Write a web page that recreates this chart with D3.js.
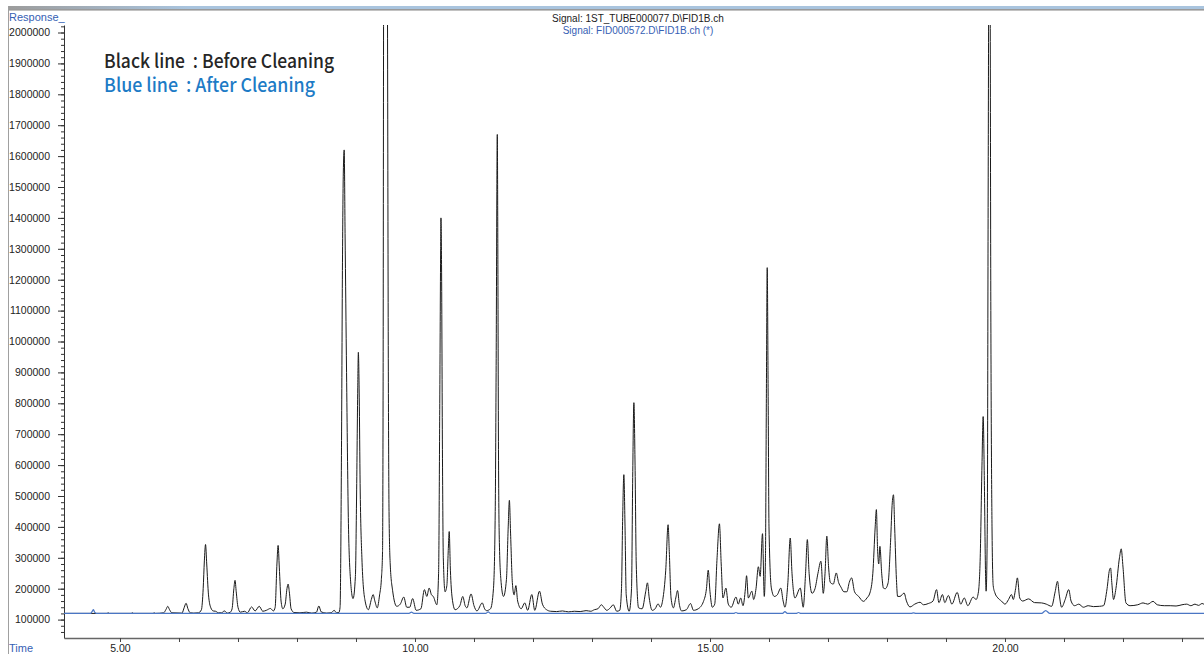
<!DOCTYPE html>
<html>
<head>
<meta charset="utf-8">
<script src="https://cdn.jsdelivr.net/npm/d3@7"></script>
<style>
  html, body { margin: 0; padding: 0; background: #fff; overflow: hidden; }
  svg { display: block; }
</style>
</head>
<body>
<div id="chart"></div>
<script>
// Black trace (before cleaning): [time in min, response in thousands]
const beforeTrace = [
  [4.00,120],[4.50,120],[4.78,120],[4.80,122],[4.82,120],[5.19,120],[5.21,122],[5.23,120],
  [5.56,120],[5.58,122],[5.60,120],[5.74,122],[5.78,133],[5.81,143],[5.84,132],[5.88,122],
  [6.05,121],[6.09,140],[6.12,153],[6.15,136],[6.19,122],[6.25,121],[6.33,122],
  [6.38,132],[6.41,200],[6.43,290],[6.45,343],[6.47,280],[6.50,180],[6.54,138],[6.58,128],
  [6.62,127],[6.67,122],[6.72,122],[6.77,128],[6.82,121],[6.87,124],
  [6.90,135],[6.93,200],[6.95,227],[6.97,190],[7.00,140],[7.04,124],[7.11,127],[7.16,122],
  [7.23,141],[7.29,128],[7.36,143],[7.42,127],[7.48,130],[7.55,136],[7.60,128],
  [7.63,140],[7.66,280],[7.68,340],[7.70,270],[7.73,160],[7.76,135],[7.80,150],[7.83,200],
  [7.85,215],[7.87,190],[7.90,135],[7.95,123],[8.05,122],[8.16,124],[8.25,121],[8.33,124],
  [8.37,144],[8.41,125],[8.50,121],[8.58,122],[8.63,130],[8.67,122],[8.71,123],
  [8.73,140],[8.755,680],[8.77,1230],[8.785,1545],[8.80,1620],[8.815,1350],[8.84,900],
  [8.87,430],[8.90,250],[8.95,168],
  [8.99,240],[9.01,500],[9.03,850],[9.04,965],[9.055,820],[9.07,540],[9.10,300],[9.15,165],
  [9.21,132],[9.26,165],[9.29,181],[9.32,160],[9.36,138],[9.40,180],[9.43,230],
  [9.45,320],[9.46,900],[9.47,2300],[9.50,3000],[9.53,2300],[9.55,800],[9.56,450],
  [9.58,280],[9.62,195],[9.69,143],
  [9.75,150],[9.81,173],[9.86,140],[9.91,140],[9.96,168],[10.02,130],[10.10,135],
  [10.16,197],[10.20,175],[10.24,202],[10.28,180],[10.31,175],[10.37,148],
  [10.40,250],[10.42,800],[10.435,1300],[10.44,1400],[10.45,1250],[10.465,650],[10.48,300],
  [10.51,190],[10.54,210],[10.565,330],[10.58,385],[10.60,260],[10.63,170],[10.68,132],
  [10.76,145],[10.81,175],[10.85,145],[10.88,138],[10.95,183],[11.00,145],[11.05,128],
  [11.14,154],[11.18,135],[11.21,129],[11.28,135],[11.33,200],
  [11.36,450],[11.375,900],[11.395,1670],[11.405,1250],[11.415,650],[11.43,350],[11.46,220],
  [11.50,175],[11.55,230],[11.58,400],[11.60,486],[11.62,380],[11.65,220],[11.68,180],
  [11.71,210],[11.74,160],[11.80,135],[11.86,154],[11.91,130],[11.98,181],[12.03,130],
  [12.11,192],[12.16,150],[12.23,132],[12.30,127],[12.40,126],[12.50,128],[12.60,125],
  [12.70,127],[12.80,126],[12.90,129],[12.98,127],[13.04,132],[13.10,135],[13.16,148],
  [13.20,140],[13.25,130],[13.31,138],[13.36,148],[13.42,127],[13.47,130],
  [13.50,200],[13.52,430],[13.54,569],[13.56,400],[13.58,180],[13.63,127],
  [13.67,200],[13.69,560],[13.71,802],[13.73,600],[13.75,280],[13.79,138],
  [13.85,135],[13.91,190],[13.94,219],[13.97,170],[14.02,130],[14.07,135],[14.12,151],
  [14.16,140],[14.20,165],[14.25,260],[14.29,407],[14.31,320],[14.34,170],[14.38,138],
  [14.42,170],[14.45,194],[14.48,150],[14.52,128],[14.60,132],[14.67,152],[14.72,130],
  [14.80,135],[14.89,159],[14.94,200],[14.97,260],[15.00,190],[15.04,140],[15.08,150],
  [15.12,300],[15.16,410],[15.19,280],[15.22,170],[15.27,202],[15.31,150],[15.36,140],
  [15.44,173],[15.48,150],[15.52,170],[15.56,145],[15.60,200],[15.62,242],[15.65,170],
  [15.71,192],[15.74,165],[15.78,200],[15.82,271],[15.85,240],[15.89,378],[15.92,175],
  [15.94,300],[15.955,800],[15.97,1239],[15.985,850],[16.00,400],[16.04,202],[16.09,175],
  [16.14,180],[16.20,202],[16.24,160],[16.27,140],[16.32,220],[16.36,364],[16.39,250],
  [16.44,170],[16.53,202],[16.58,140],[16.62,250],[16.65,359],[16.68,250],[16.73,185],
  [16.78,200],[16.83,250],[16.88,289],[16.92,185],[16.95,250],[16.98,370],[17.01,270],
  [17.04,220],[17.09,215],[17.14,251],[17.18,220],[17.22,205],[17.27,190],[17.32,190],
  [17.36,220],[17.40,235],[17.45,190],[17.52,175],[17.60,159],[17.66,170],[17.71,186],
  [17.76,250],[17.80,400],[17.82,456],[17.84,330],[17.86,280],[17.88,337],[17.91,250],
  [17.94,202],[17.97,200],[18.02,220],[18.06,350],[18.09,480],[18.11,504],[18.13,400],
  [18.16,230],[18.18,175],[18.22,175],[18.29,186],[18.33,160],[18.39,141],[18.47,150],
  [18.56,156],[18.62,148],[18.70,152],[18.78,160],[18.84,197],[18.88,155],[18.94,181],
  [18.98,155],[19.04,178],[19.10,150],[19.19,188],[19.25,150],[19.31,170],[19.37,145],
  [19.46,173],[19.51,165],[19.55,190],
  [19.58,300],[19.61,600],[19.63,757],[19.65,550],[19.67,250],[19.68,192],
  [19.70,400],[19.715,1500],[19.73,2400],[19.745,2300],[19.76,1100],[19.78,400],[19.80,210],
  [19.83,186],[19.88,170],[19.94,160],[20.00,150],[20.06,165],[20.11,181],[20.14,165],
  [20.18,200],[20.21,235],[20.25,170],[20.30,160],[20.40,167],[20.50,155],[20.62,154],
  [20.70,150],[20.79,143],[20.85,190],[20.89,224],[20.92,180],[20.96,140],[21.02,165],
  [21.08,197],[21.12,160],[21.18,145],[21.25,150],[21.33,140],[21.41,145],[21.50,142],
  [21.60,143],[21.67,145],[21.73,200],[21.77,260],[21.79,267],[21.81,220],[21.84,165],
  [21.88,200],[21.94,300],[21.97,329],[22.00,270],[22.05,154],[22.12,145],[22.25,148],
  [22.34,154],[22.42,150],[22.51,159],[22.58,148],[22.70,145],[22.80,145],[22.90,144],
  [23.00,148],[23.08,150],[23.15,145],[23.22,150],[23.28,146],[23.34,152],[23.40,145]
];

// Blue trace (after cleaning): [time in min, response in thousands]
const afterTrace = [
  [4.00,120],[4.50,120],[4.53,127],[4.55,132],[4.57,124],[4.60,120],
  [9.90,120],[9.94,124],[9.98,120],[11.20,120],[11.24,125],[11.28,120],
  [15.40,120],[15.44,123],[15.48,120],[16.23,120],[16.27,126],[16.31,120],
  [16.46,120],[16.50,123],[16.54,120],[18.41,120],[18.45,122],[18.49,120],
  [20.62,120],[20.69,129],[20.76,120],[23.40,120]
];

const responseTicks = [100000, 200000, 300000, 400000, 500000, 600000, 700000, 800000,
  900000, 1000000, 1100000, 1200000, 1300000, 1400000, 1500000, 1600000, 1700000,
  1800000, 1900000, 2000000];
const timeLabels = [5, 10, 15, 20];
const signalTitles = ['Signal: 1ST_TUBE000077.D\\FID1B.ch', 'Signal: FID000572.D\\FID1B.ch (*)'];
const legendLines = ['Black line  : Before Cleaning', 'Blue line  : After Cleaning'];

const W = 1204, H = 654;
const plot = { left: 64, right: 1204, top: 25, bottom: 638 };

const svg = d3.select('#chart').append('svg')
  .attr('width', W)
  .attr('height', H)
  .style('font-family', '"Liberation Sans", Arial, sans-serif');

// window frame: title band + left edge
const grad = svg.append('defs').append('linearGradient')
  .attr('id', 'band').attr('x1', 0).attr('x2', 1);
grad.append('stop').attr('offset', 0).attr('stop-color', '#9c9c9c');
grad.append('stop').attr('offset', 0.15).attr('stop-color', '#a9c4de');
grad.append('stop').attr('offset', 1).attr('stop-color', '#a9c4de');

svg.append('rect').attr('x', 8).attr('y', 6).attr('width', W - 8).attr('height', 3)
  .attr('fill', 'url(#band)');
svg.append('rect').attr('x', 8).attr('y', 9).attr('width', W - 8).attr('height', 1.6)
  .attr('fill', '#9a9a9a');
svg.append('line').attr('x1', 8.5).attr('x2', 8.5).attr('y1', 6).attr('y2', H)
  .attr('stroke', '#a0a0a0').attr('stroke-width', 1);

const x = d3.scaleLinear().domain([4.051, 23.373]).range([plot.left, plot.right]);
const y = d3.scaleLinear().domain([40450, 2024300]).range([plot.bottom, plot.top]);

svg.append('clipPath').attr('id', 'clip')
  .append('rect')
  .attr('x', plot.left).attr('y', plot.top)
  .attr('width', plot.right - plot.left).attr('height', plot.bottom - plot.top);

// y axis: minor ticks every 20000, labelled every 100000
const yMinor = svg.append('g')
  .attr('transform', `translate(${plot.left},0)`)
  .call(d3.axisLeft(y)
    .tickValues(d3.range(60000, 2020001, 20000))
    .tickSize(3)
    .tickFormat(''));
yMinor.select('.domain').remove();
yMinor.selectAll('line').attr('stroke', '#333');

const yAxis = svg.append('g')
  .attr('transform', `translate(${plot.left},0)`)
  .call(d3.axisLeft(y)
    .tickValues(responseTicks)
    .tickSize(6)
    .tickSizeOuter(0)
    .tickPadding(8)
    .tickFormat(d3.format('d')));
yAxis.select('.domain').attr('stroke', '#333');
yAxis.selectAll('line').attr('stroke', '#333');
yAxis.selectAll('text')
  .attr('font-size', 10.5)
  .attr('font-family', '"Liberation Sans", Arial, sans-serif')
  .attr('fill', '#222');

// x axis: tick every minute, labels every 5
const xAxis = svg.append('g')
  .attr('transform', `translate(0,${plot.bottom})`)
  .call(d3.axisBottom(x)
    .tickValues(d3.range(5, 24, 1))
    .tickSize(4)
    .tickSizeOuter(0)
    .tickPadding(3)
    .tickFormat(d => timeLabels.includes(d) ? d.toFixed(2) : ''));
xAxis.select('.domain').attr('stroke', '#666').attr('stroke-width', 1.5);
xAxis.selectAll('line').attr('stroke', '#444');
xAxis.selectAll('text')
  .attr('font-size', 10.5)
  .attr('font-family', '"Liberation Sans", Arial, sans-serif')
  .attr('fill', '#222');

// traces
const line = d3.line()
  .x(d => x(d[0]))
  .y(d => y(d[1] * 1000))
  .curve(d3.curveMonotoneX);

const traces = svg.append('g').attr('clip-path', 'url(#clip)');

traces.append('path')
  .datum(beforeTrace)
  .attr('d', line)
  .attr('fill', 'none')
  .attr('stroke', '#1a1a1a')
  .attr('stroke-width', 1);

traces.append('path')
  .datum(afterTrace)
  .attr('d', line)
  .attr('fill', 'none')
  .attr('stroke', '#4a76c4')
  .attr('stroke-width', 1.2);

// axis captions
svg.append('text')
  .attr('x', 9).attr('y', 21)
  .attr('font-size', 11)
  .attr('fill', '#3560b4')
  .text('Response_');

svg.append('text')
  .attr('x', 9).attr('y', 652)
  .attr('font-size', 11)
  .attr('fill', '#3560b4')
  .text('Time');

// signal titles
svg.selectAll('text.signal')
  .data(signalTitles)
  .enter()
  .append('text')
  .attr('class', 'signal')
  .attr('x', 638)
  .attr('y', (d, i) => 22 + i * 12)
  .attr('text-anchor', 'middle')
  .attr('font-size', 10)
  .attr('fill', (d, i) => i === 0 ? '#222' : '#3560b4')
  .text(d => d);

// legend note
const legendWidths = [230, 211];
svg.selectAll('text.legend')
  .data(legendLines)
  .enter()
  .append('text')
  .attr('class', 'legend')
  .attr('x', 104)
  .attr('y', (d, i) => 68 + i * 24)
  .attr('font-family', '"Noto Sans CJK KR", "Noto Sans", sans-serif')
  .attr('font-weight', 500)
  .attr('font-size', 19)
  .attr('textLength', (d, i) => legendWidths[i])
  .attr('lengthAdjust', 'spacingAndGlyphs')
  .style('white-space', 'pre')
  .attr('fill', (d, i) => i === 0 ? '#262626' : '#1d7bc6')
  .text(d => d);
</script>
</body>
</html>
